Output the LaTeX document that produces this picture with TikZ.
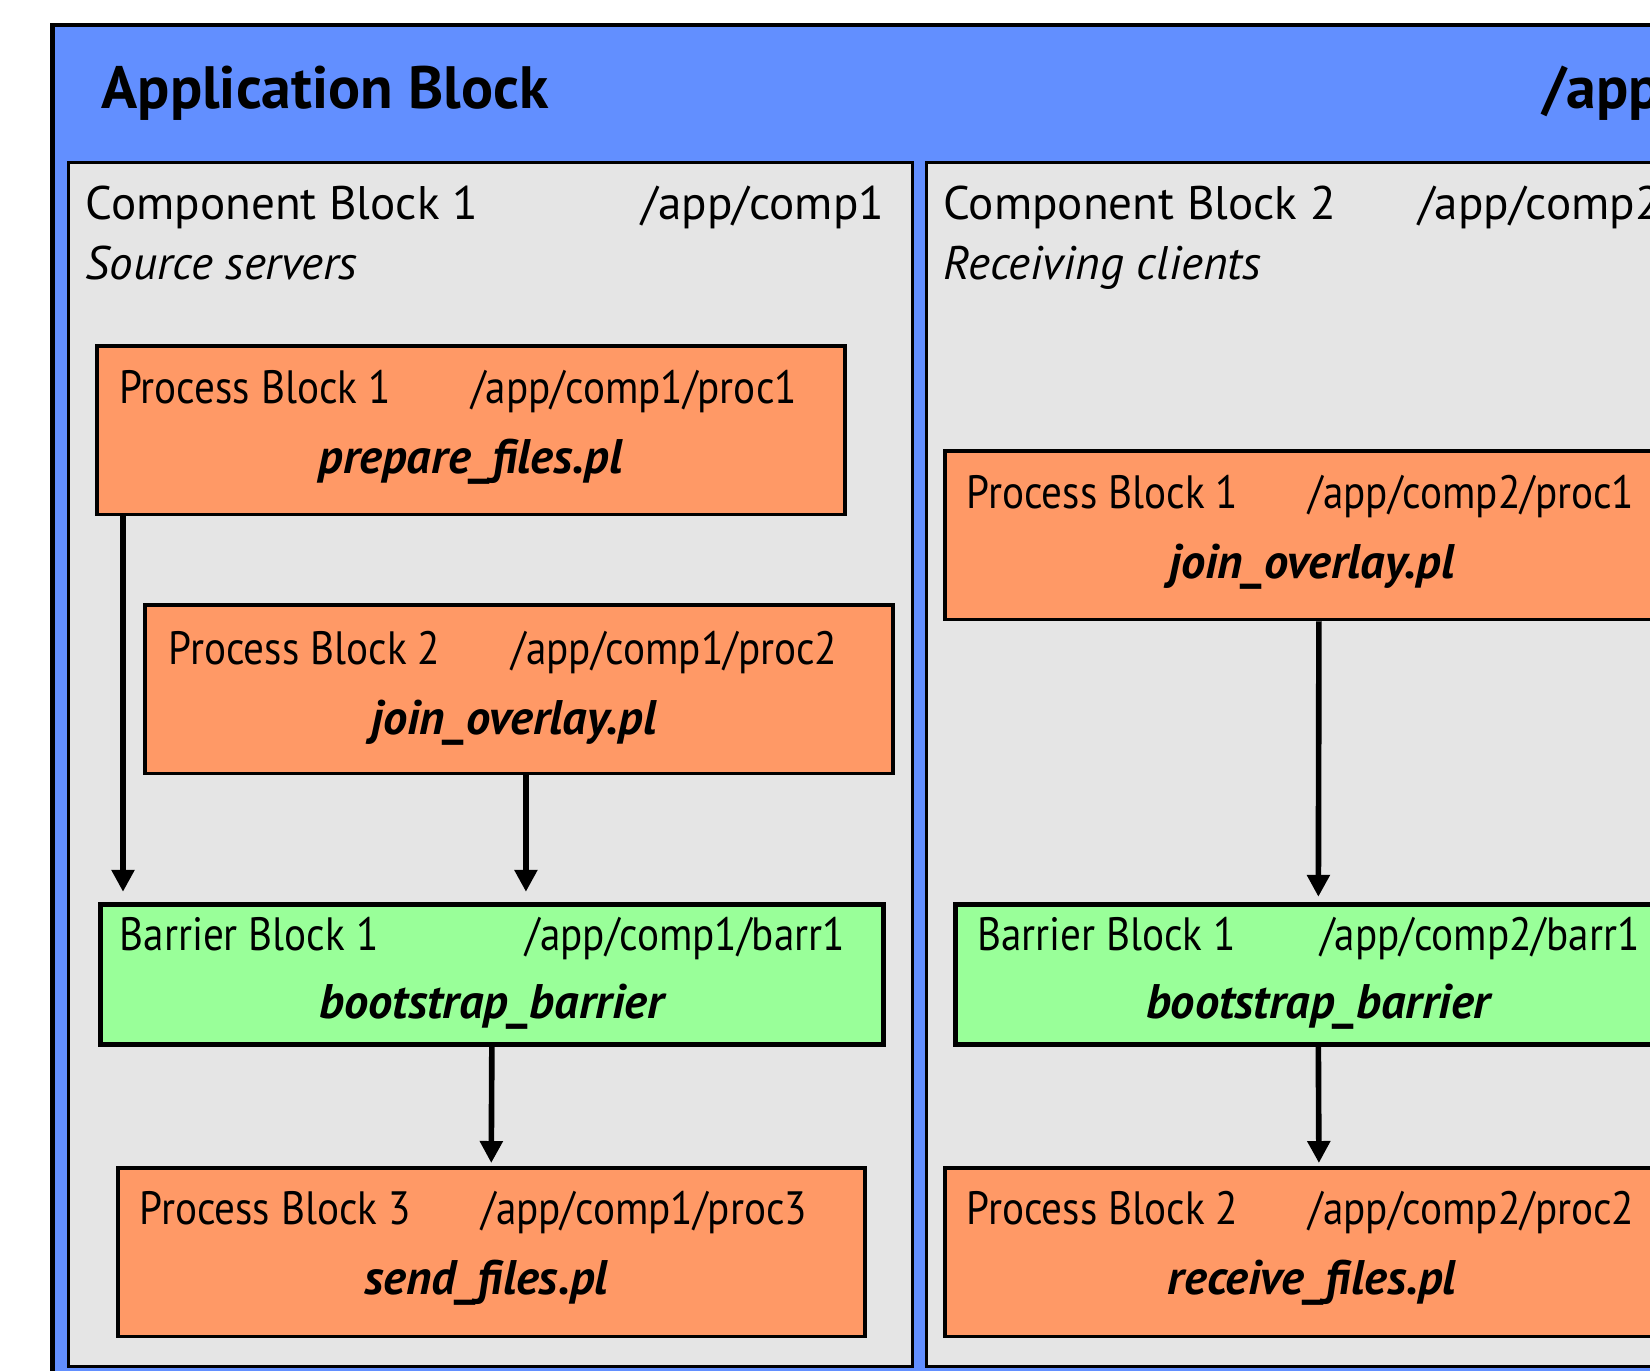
\documentclass[tikz,border=0pt]{standalone}
\usepackage{fontspec}
\setmainfont{PT Sans}
\newfontfamily\condfont[FakeStretch=0.88]{PT Sans}
\usetikzlibrary{arrows.meta}

\definecolor{appblue}{RGB}{98,143,255}
\definecolor{compgray}{RGB}{229,229,229}
\definecolor{procorange}{RGB}{255,153,102}
\definecolor{barrgreen}{RGB}{153,255,153}

\begin{document}
\begin{tikzpicture}[
    box/.style={draw, line width=1.1pt, anchor=north west, inner sep=0pt},
    compbox/.style={box, fill=compgray, line width=0.9pt},
    procbox/.style={box, fill=procorange, minimum width=7.48cm, minimum height=1.685cm},
    barrbox/.style={box, fill=barrgreen, line width=1.4pt, minimum height=1.40cm},
    apptext/.style={anchor=base west, inner sep=0pt, font=\fontsize{17}{20}\selectfont\bfseries},
    comptext/.style={anchor=base west, inner sep=0pt, font=\fontsize{13.4}{16}\selectfont},
    compnote/.style={comptext, font=\fontsize{13.4}{16}\selectfont\itshape},
    proctext/.style={anchor=base west, inner sep=0pt, font=\fontsize{13.3}{16}\selectfont\condfont},
    scriptname/.style={anchor=base, inner sep=0pt, font=\fontsize{13.8}{16}\selectfont\bfseries\itshape},
    flow/.style={line width=1.6pt, -{Triangle[width=0.22cm,length=0.22cm]}, shorten >=0.1cm}
]
    % Page size and clipping
    \useasboundingbox (0,0) rectangle (16.5,-13.7);
    \clip (0,0) rectangle (16.5,-13.7);

    % Application block
    \draw[line width=1.2pt, fill=appblue] (0.526,-0.253) rectangle (17.5,-14.5);
    \node[apptext] (apptitle) at (1.01,-1.084) {Application Block};
    \node[apptext] (apppath) at (15.416,-1.084) {/app};

    % Component blocks
    \node[compbox, minimum width=8.44cm, minimum height=12.04cm] (comp1) at (0.673,-1.61) {};
    \node[compbox, minimum width=8.00cm, minimum height=12.04cm] (comp2) at (9.25,-1.61) {};

    \node[comptext] (comp1title) at (0.852,-2.19) {Component Block 1};
    \node[comptext, anchor=base east] (comp1path) at (8.85,-2.19) {/app/comp1};
    \node[compnote] (comp1note) at (0.852,-2.79) {Source servers};

    \node[comptext] (comp2title) at (9.43,-2.19) {Component Block 2};
    \node[comptext] (comp2path) at (14.175,-2.19) {/app/comp2};
    \node[compnote] (comp2note) at (9.43,-2.79) {Receiving clients};

    % Component 1: process and barrier blocks
    \node[procbox] (c1pa) at (0.947,-3.44) {};
    \node[proctext] at ([shift={(0.24,-0.59)}]c1pa.north west) {Process Block 1};
    \node[proctext] at ([shift={(3.76,-0.59)}]c1pa.north west) {/app/comp1/proc1};
    \node[scriptname] at ([yshift=-1.294cm]c1pa.north) {prepare\_files.pl};

    \node[procbox] (c1pb) at (1.43,-6.03) {};
    \node[proctext] at ([shift={(0.25,-0.61)}]c1pb.north west) {Process Block 2};
    \node[proctext] at ([shift={(3.68,-0.61)}]c1pb.north west) {/app/comp1/proc2};
    \node[scriptname] at ([shift={(-0.05,-1.31)}]c1pb.north) {join\_overlay.pl};

    \node[barrbox, minimum width=7.83cm] (c1ba) at (0.979,-9.018) {};
    \node[proctext] at ([shift={(0.21,-0.484)}]c1ba.north west) {Barrier Block 1};
    \node[proctext] at ([shift={(4.27,-0.484)}]c1ba.north west) {/app/comp1/barr1};
    \node[scriptname] at ([yshift=-1.168cm]c1ba.north) {bootstrap\_barrier};

    \node[procbox, minimum width=7.47cm] (c1pc) at (1.158,-11.66) {};
    \node[proctext] at ([shift={(0.23,-0.58)}]c1pc.north west) {Process Block 3};
    \node[proctext] at ([shift={(3.65,-0.58)}]c1pc.north west) {/app/comp1/proc3};
    \node[scriptname] at ([shift={(-0.05,-1.284)}]c1pc.north) {send\_files.pl};

    % Component 2: process and barrier blocks
    \node[procbox] (c2pa) at (9.43,-4.49) {};
    \node[proctext] at ([shift={(0.23,-0.59)}]c2pa.north west) {Process Block 1};
    \node[proctext] at ([shift={(3.65,-0.59)}]c2pa.north west) {/app/comp2/proc1};
    \node[scriptname] at ([shift={(-0.07,-1.294)}]c2pa.north) {join\_overlay.pl};

    \node[barrbox, minimum width=7.25cm] (c2ba) at (9.534,-9.018) {};
    \node[proctext] at ([shift={(0.23,-0.484)}]c2ba.north west) {Barrier Block 1};
    \node[proctext] at ([shift={(3.66,-0.484)}]c2ba.north west) {/app/comp2/barr1};
    \node[scriptname] at ([yshift=-1.168cm]c2ba.north) {bootstrap\_barrier};

    \node[procbox] (c2pb) at (9.43,-11.66) {};
    \node[proctext] at ([shift={(0.23,-0.58)}]c2pb.north west) {Process Block 2};
    \node[proctext] at ([shift={(3.65,-0.58)}]c2pb.north west) {/app/comp2/proc2};
    \node[scriptname] at ([shift={(-0.07,-1.284)}]c2pb.north) {receive\_files.pl};

    % Flow arrows
    \coordinate (c1paout) at ([xshift=0.283cm]c1pa.south west);
    \coordinate (c1pbout) at ([xshift=0.07cm]c1pb.south);
    \draw[flow] (c1paout) -- (c1paout |- c1ba.north);
    \draw[flow] (c1pbout) -- (c1pbout |- c1ba.north);
    \draw[flow, shorten >=0.03cm] (c1ba.south) -- (c1pc.north);
    \draw[flow, shorten >=0.05cm] (c2pa.south) -- (c2ba.north);
    \draw[flow, shorten >=0.03cm] (c2ba.south) -- (c2pb.north);
\end{tikzpicture}
\end{document}
